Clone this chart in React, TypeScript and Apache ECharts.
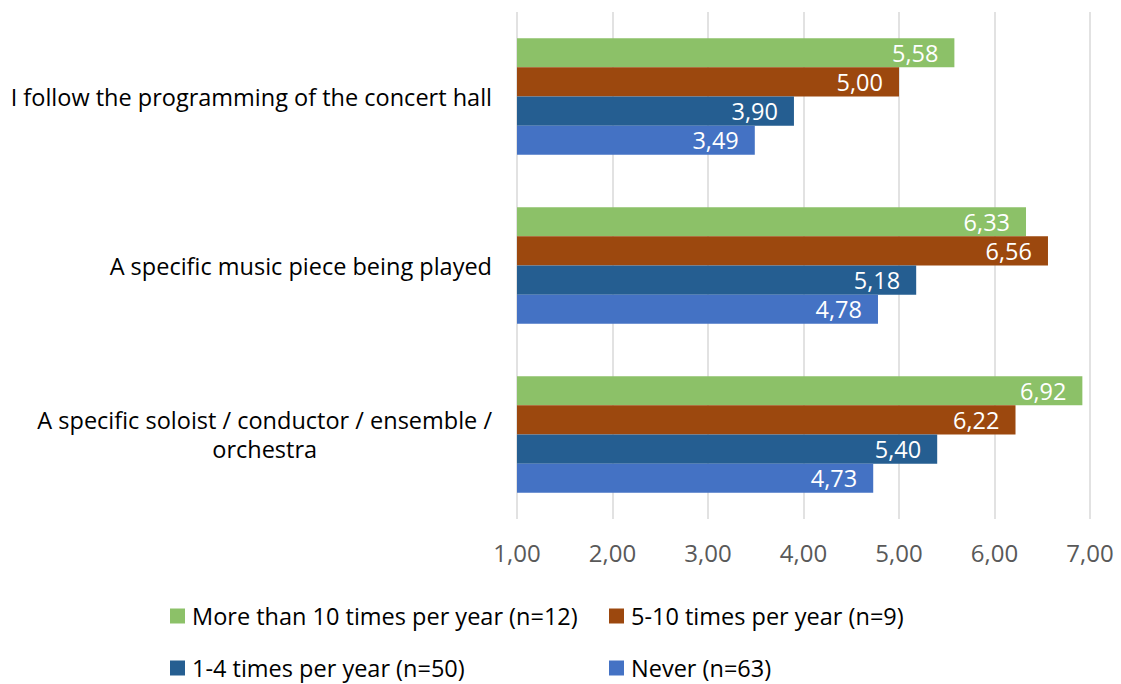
import React, { useEffect, useRef } from "react";
import * as echarts from "echarts";

// Survey statements (top to bottom)
const categories = [
  "I follow the programming of the concert hall",
  "A specific music piece being played",
  "A specific soloist / conductor / ensemble / orchestra",
];

// Attendance groups
const seriesNames = [
  "More than 10 times per year (n=12)",
  "5-10 times per year (n=9)",
  "1-4 times per year (n=50)",
  "Never (n=63)",
];

const moreThan10 = [5.58, 6.33, 6.92];
const fiveTo10 = [5.0, 6.56, 6.22];
const oneTo4 = [3.9, 5.18, 5.4];
const never = [3.49, 4.78, 4.73];

const xTicks = [1, 2, 3, 4, 5, 6, 7];

const colors = ["#8CC168", "#9C480E", "#255E91", "#4472C4"];

const FONT = "Open Sans";
const SIZE = 23.5;

const fmt = (v: number) => v.toFixed(2).replace(".", ",");

export default function App() {
  const ref = useRef<HTMLDivElement>(null);

  useEffect(() => {
    if (!ref.current) return;
    const chart = echarts.init(ref.current, null, { renderer: "svg" });

    const values = [moreThan10, fiveTo10, oneTo4, never];

    const legendPos = [
      { left: 170, top: 604 },
      { left: 609, top: 604 },
      { left: 170, top: 656 },
      { left: 609, top: 656 },
    ];

    chart.setOption({
      animation: false,
      grid: { left: 517, right: 31, top: 12, bottom: 165 },
      xAxis: {
        type: "value",
        min: xTicks[0],
        max: xTicks[xTicks.length - 1],
        interval: 1,
        axisLine: { show: false },
        axisTick: { show: false },
        splitLine: { lineStyle: { color: "#D9D9D9", width: 1.5 } },
        axisLabel: {
          formatter: (v: number) => fmt(v),
          color: "#595959",
          fontFamily: FONT,
          fontSize: 24,
          margin: 21,
        },
      },
      yAxis: {
        type: "category",
        data: categories,
        inverse: true,
        axisLine: { show: false },
        axisTick: { show: false },
        axisLabel: {
          color: "#000000",
          fontFamily: FONT,
          fontSize: SIZE,
          margin: 25,
          lineHeight: 29,
          formatter: (v: string) => {
            if (v.length > 46) {
              const cut = v.lastIndexOf(" / ") + 2;
              return `{c|${v.slice(0, cut)}}\n{c|${v.slice(cut + 1)}}`;
            }
            return v;
          },
          rich: {
            c: {
              align: "center",
              color: "#000000",
              fontFamily: FONT,
              fontSize: SIZE,
              lineHeight: 29,
            },
          },
        },
      },
      legend: seriesNames.map((name, i) => ({
        data: [name],
        left: legendPos[i].left,
        top: legendPos[i].top,
        icon: "rect",
        itemWidth: 15,
        itemHeight: 15,
        itemGap: 0,
        padding: 0,
        selectedMode: false,
        textStyle: {
          color: "#000000",
          fontFamily: FONT,
          fontSize: SIZE,
          padding: [0, 0, 0, 2],
        },
      })),
      series: seriesNames.map((name, i) => ({
        type: "bar",
        name,
        data: values[i],
        barGap: "0%",
        barCategoryGap: "31%",
        itemStyle: { color: colors[i] },
        label: {
          show: true,
          position: "insideRight",
          distance: 16,
          color: "#FFFFFF",
          fontFamily: FONT,
          fontSize: SIZE,
          formatter: (p: any) => fmt(p.value),
        },
      })),
    });

    return () => chart.dispose();
  }, []);

  return (
    <div
      ref={ref}
      style={{ position: "fixed", left: 0, top: 0, width: 1121, height: 684, background: "#fff" }}
    />
  );
}
